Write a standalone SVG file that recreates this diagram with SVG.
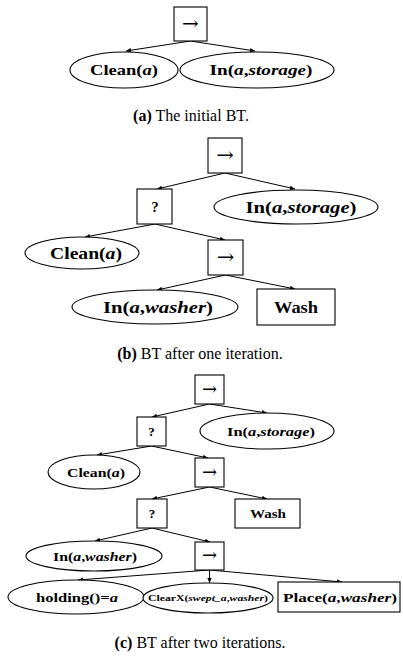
<svg xmlns="http://www.w3.org/2000/svg" width="403" height="659" viewBox="0 0 403 659">
<defs>
<marker id="ah" markerWidth="6" markerHeight="6" refX="5" refY="3" orient="auto" markerUnits="userSpaceOnUse">
<path d="M0,0.8 L5,3 L0,5.2 z" fill="#000"/>
</marker>
<style>
.n{fill:#fff;stroke:#000;stroke-width:1.1}
.e{stroke:#000;stroke-width:1;fill:none;marker-end:url(#ah)}
.t{font-family:"Liberation Serif","DejaVu Serif",serif;font-weight:bold;text-anchor:middle;fill:#000}
.v{font-style:italic}
.op{font-family:"DejaVu Serif","Liberation Serif",serif;font-weight:normal;text-anchor:middle;fill:#000}
.cap{font-family:"Liberation Serif","Times New Roman",serif;font-size:16px;text-anchor:middle;fill:#000}
</style>
</defs>
<rect width="403" height="659" fill="#fff"/>
<g id="connectors">
<line class="e" x1="190.5" y1="41" x2="126" y2="51"/>
<line class="e" x1="190.5" y1="41" x2="255" y2="51"/>
<line class="e" x1="225" y1="173" x2="157" y2="189"/>
<line class="e" x1="225" y1="173" x2="295" y2="189"/>
<line class="e" x1="155" y1="224" x2="85" y2="237"/>
<line class="e" x1="155" y1="224" x2="225" y2="240"/>
<line class="e" x1="225.5" y1="275" x2="157" y2="290"/>
<line class="e" x1="225.5" y1="275" x2="295" y2="289"/>
<line class="e" x1="209.5" y1="404" x2="152" y2="417"/>
<line class="e" x1="209.5" y1="404" x2="267" y2="413"/>
<line class="e" x1="151.5" y1="446" x2="97" y2="455"/>
<line class="e" x1="151.5" y1="446" x2="208" y2="458"/>
<line class="e" x1="209.5" y1="487" x2="152" y2="499"/>
<line class="e" x1="209.5" y1="487" x2="267" y2="499"/>
<line class="e" x1="152" y1="528" x2="95" y2="541"/>
<line class="e" x1="152" y1="528" x2="210" y2="542"/>
<line class="e" x1="209.5" y1="570" x2="78" y2="580"/>
<line class="e" x1="209.5" y1="570" x2="209.5" y2="583"/>
<line class="e" x1="209.5" y1="570" x2="342" y2="582"/>
</g>
<g id="a_seq"><rect class="n" x="174" y="7" width="33" height="34"/><text class="op" x="190.5" y="30" font-size="20">→</text></g>
<g id="a_clean"><ellipse class="n" cx="124" cy="70" rx="54" ry="18"/><text class="t" x="124" y="75" font-size="15" textLength="68" lengthAdjust="spacingAndGlyphs">Clean(<tspan class="v">a</tspan>)</text></g>
<g id="a_storage"><ellipse class="n" cx="257" cy="70" rx="77" ry="18"/><text class="t" x="261" y="75" font-size="15" textLength="103" lengthAdjust="spacingAndGlyphs">In(<tspan class="v">a</tspan>,<tspan class="v">storage</tspan>)</text></g>
<text class="cap" x="191" y="121"><tspan font-weight="bold">(a)</tspan> The initial BT.</text>

<g id="b_seq1"><rect class="n" x="208" y="138" width="34" height="35"/><text class="op" x="225" y="162" font-size="21">→</text></g>
<g id="b_fb"><rect class="n" x="137" y="189" width="35" height="35"/><text class="t" x="155" y="212" font-size="15">?</text></g>
<g id="b_storage"><ellipse class="n" cx="296" cy="207" rx="82" ry="17"/><text class="t" x="301" y="213" font-size="16" textLength="111" lengthAdjust="spacingAndGlyphs">In(<tspan class="v">a</tspan>,<tspan class="v">storage</tspan>)</text></g>
<g id="b_clean"><ellipse class="n" cx="82" cy="253" rx="57" ry="16"/><text class="t" x="86" y="259" font-size="16" textLength="72" lengthAdjust="spacingAndGlyphs">Clean(<tspan class="v">a</tspan>)</text></g>
<g id="b_seq2"><rect class="n" x="208" y="240" width="35" height="35"/><text class="op" x="225.5" y="264" font-size="21">→</text></g>
<g id="b_washer"><ellipse class="n" cx="155" cy="307" rx="83" ry="17"/><text class="t" x="158" y="313" font-size="16" textLength="110" lengthAdjust="spacingAndGlyphs">In(<tspan class="v">a</tspan>,<tspan class="v">washer</tspan>)</text></g>
<g id="b_wash"><rect class="n" x="257" y="289" width="78" height="36"/><text class="t" x="296" y="313" font-size="16" textLength="44" lengthAdjust="spacingAndGlyphs">Wash</text></g>
<text class="cap" x="200" y="359"><tspan font-weight="bold">(b)</tspan> BT after one iteration.</text>

<g id="c_seq1"><rect class="n" x="195" y="375" width="29" height="29"/><text class="op" x="209.5" y="395" font-size="18">→</text></g>
<g id="c_fb1"><rect class="n" x="137" y="417" width="29" height="29"/><text class="t" x="151.5" y="436" font-size="13">?</text></g>
<g id="c_storage"><ellipse class="n" cx="267" cy="431" rx="67" ry="18"/><text class="t" x="271" y="436" font-size="13" textLength="88" lengthAdjust="spacingAndGlyphs">In(<tspan class="v">a</tspan>,<tspan class="v">storage</tspan>)</text></g>
<g id="c_clean"><ellipse class="n" cx="94" cy="472" rx="46" ry="17"/><text class="t" x="96" y="477" font-size="13" textLength="58" lengthAdjust="spacingAndGlyphs">Clean(<tspan class="v">a</tspan>)</text></g>
<g id="c_seq2"><rect class="n" x="195" y="458" width="29" height="29"/><text class="op" x="209.5" y="478" font-size="18">→</text></g>
<g id="c_fb2"><rect class="n" x="137" y="499" width="30" height="29"/><text class="t" x="152" y="518" font-size="13">?</text></g>
<g id="c_wash"><rect class="n" x="235" y="499" width="65" height="29"/><text class="t" x="268" y="518" font-size="13" textLength="36" lengthAdjust="spacingAndGlyphs">Wash</text></g>
<g id="c_washer"><ellipse class="n" cx="94" cy="556" rx="68" ry="15"/><text class="t" x="95" y="561" font-size="13" textLength="84" lengthAdjust="spacingAndGlyphs">In(<tspan class="v">a</tspan>,<tspan class="v">washer</tspan>)</text></g>
<g id="c_seq3"><rect class="n" x="195" y="542" width="29" height="28"/><text class="op" x="209.5" y="561" font-size="18">→</text></g>
<g id="c_holding"><ellipse class="n" cx="76" cy="597" rx="68" ry="17"/><text class="t" x="77" y="602" font-size="13" textLength="82" lengthAdjust="spacingAndGlyphs">holding()=<tspan class="v">a</tspan></text></g>
<g id="c_clearx"><ellipse class="n" cx="208" cy="598" rx="65" ry="15"/><text class="t" x="208" y="601" font-size="8" font-weight="normal" textLength="120" lengthAdjust="spacingAndGlyphs">ClearX(<tspan class="v">swept_a</tspan>,<tspan class="v">washer</tspan>)</text></g>
<g id="c_place"><rect class="n" x="278" y="582" width="122" height="30"/><text class="t" x="340" y="602" font-size="13" textLength="114" lengthAdjust="spacingAndGlyphs">Place(<tspan class="v">a</tspan>,<tspan class="v">washer</tspan>)</text></g>
<text class="cap" x="200" y="648"><tspan font-weight="bold">(c)</tspan> BT after two iterations.</text>
</svg>
